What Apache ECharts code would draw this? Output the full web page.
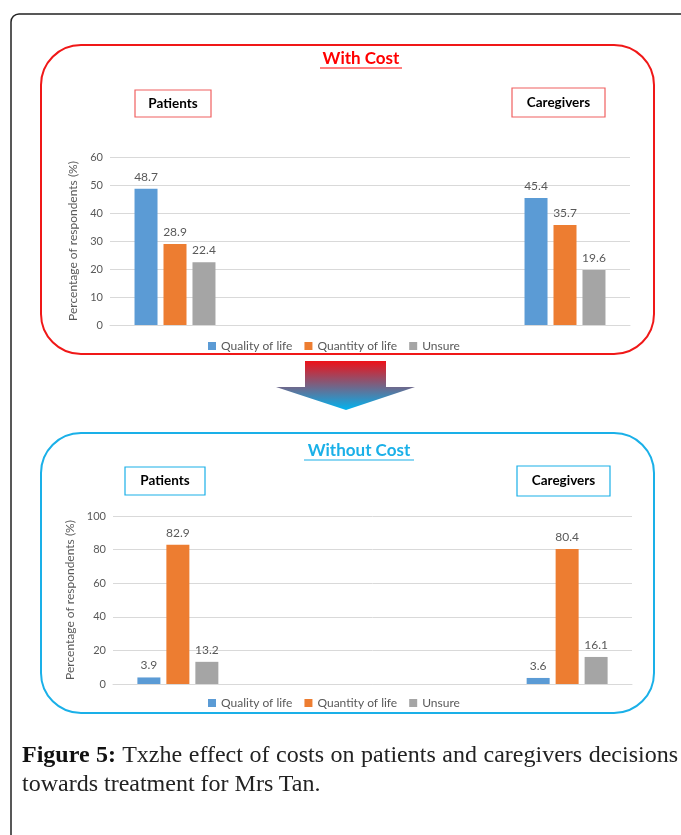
<!DOCTYPE html>
<html>
<head>
<meta charset="utf-8">
<script src="https://cdn.jsdelivr.net/npm/echarts@6/dist/echarts.min.js"></script>
<style>
    html, body { margin: 0; padding: 0; background: #fff; }
    #wrap { position: relative; width: 681px; height: 835px; }
    #main { width: 681px; height: 835px; }
    #caption {
        position: absolute; left: 22px; top: 740px; width: 656px;
        font: 24px "Liberation Serif", serif; line-height: 29px;
        color: #222; text-align: justify;
    }
    #caption b { color: #111; }
</style>
</head>
<body>
<div id="wrap">
    <div id="main"></div>
    <div id="caption"><b>Figure 5:</b> Txzhe effect of costs on patients and caregivers decisions towards treatment for Mrs Tan.</div>
</div>
<script>
// groups on the x axis (the chart leaves two empty slots between them)
const groups = ['Patients', 'Caregivers']
const seriesNames = ['Quality of life', 'Quantity of life', 'Unsure']

// With Cost (%)
const withQuality = [48.7, 45.4]
const withQuantity = [28.9, 35.7]
const withUnsure = [22.4, 19.6]

// Without Cost (%)
const withoutQuality = [3.9, 3.6]
const withoutQuantity = [82.9, 80.4]
const withoutUnsure = [13.2, 16.1]

const withTicks = { min: 0, max: 60, interval: 10 }
const withoutTicks = { min: 0, max: 100, interval: 20 }

const colors = ['#5B9BD5', '#ED7D31', '#A5A5A5']
const font = 'Lato, "Open Sans", sans-serif'

// spread two groups over four slots: first and last
function slots(arr) {
    return [arr[0], null, null, arr[1]]
}
const slotCats = [groups[0], '', '', groups[1]]

function bars(name, data, idx, axis) {
    return {
        name: name,
        type: 'bar',
        xAxisIndex: axis,
        yAxisIndex: axis,
        data: slots(data),
        barWidth: 23,
        barGap: '26%',
        itemStyle: { color: colors[idx] },
        label: {
            show: true,
            position: 'top',
            distance: 6,
            color: '#595959',
            fontFamily: font,
            fontSize: 12
        }
    }
}

function yAxis(ticks, grid) {
    return {
        type: 'value',
        gridIndex: grid,
        min: ticks.min,
        max: ticks.max,
        interval: ticks.interval,
        name: 'Percentage of respondents (%)',
        nameLocation: 'middle',
        nameGap: 26,
        nameTextStyle: { color: '#595959', fontFamily: font, fontSize: 12 },
        axisLine: { show: false },
        axisTick: { show: false },
        axisLabel: { color: '#595959', fontFamily: font, fontSize: 11, margin: 7 },
        splitLine: { lineStyle: { color: '#D9D9D9', width: 1 } }
    }
}

function xAxis(grid) {
    return {
        type: 'category',
        gridIndex: grid,
        data: slotCats,
        axisLine: { lineStyle: { color: '#D9D9D9' } },
        axisTick: { show: false },
        axisLabel: { show: false }
    }
}

function legend(top) {
    return {
        data: seriesNames,
        left: 203,
        top: top,
        itemWidth: 8,
        itemHeight: 8,
        itemGap: 12,
        icon: 'rect',
        textStyle: { color: '#595959', fontFamily: font, fontSize: 12 }
    }
}

function labelBox(text, x, y, w, h, color) {
    return [
        { type: 'rect', shape: { x: x, y: y, width: w, height: h }, style: { fill: '#fff', stroke: color, lineWidth: 1.2 } },
        { type: 'text', x: x + w / 2, y: y + h / 2, style: { text: text, fill: '#000', font: 'bold 13.5px ' + font, align: 'center', verticalAlign: 'middle' } }
    ]
}

function title(text, cx, cy, color, w) {
    return [
        { type: 'text', x: cx, y: cy, style: { text: text, fill: color, font: 'bold 17px ' + font, align: 'center', verticalAlign: 'middle' } },
        { type: 'line', shape: { x1: cx - w / 2, y1: cy + 9, x2: cx + w / 2, y2: cy + 9 }, style: { stroke: color, lineWidth: 1.2 } }
    ]
}

const red = '#F01818'
const sky = '#1AB0E8'

let graphics = [
    // outer figure frame
    { type: 'rect', shape: { x: 11, y: 14, width: 720, height: 860, r: 8 }, style: { fill: 'none', stroke: '#222', lineWidth: 1.5 } },
    // panel borders
    { type: 'rect', shape: { x: 41, y: 45, width: 613, height: 309, r: 40 }, style: { fill: 'none', stroke: red, lineWidth: 2 } },
    { type: 'rect', shape: { x: 41, y: 433, width: 613, height: 280, r: 40 }, style: { fill: 'none', stroke: sky, lineWidth: 2 } },
    // arrow
    {
        type: 'polygon',
        shape: { points: [[305, 361], [386, 361], [386, 387], [415, 387], [346, 410], [276, 387], [305, 387]] },
        style: {
            fill: new echarts.graphic.LinearGradient(0, 0, 0, 1, [
                { offset: 0, color: '#EE1118' },
                { offset: 1, color: '#00B4F0' }
            ])
        }
    }
]
graphics = graphics
    .concat(title('With Cost', 361, 59, '#FF0000', 82))
    .concat(title('Without Cost', 359, 451, sky, 110))
    .concat(labelBox('Patients', 135, 90, 76, 27, '#F06060'))
    .concat(labelBox('Caregivers', 512, 88, 93, 29, '#F06060'))
    .concat(labelBox('Patients', 125, 467, 80, 28, sky))
    .concat(labelBox('Caregivers', 517, 466, 93, 30, sky))

let myChart = echarts.init(document.getElementById('main'), null, { renderer: 'canvas' })

myChart.setOption({
    animation: false,
    grid: [
        { left: 110, right: 51, top: 157, height: 168 },
        { left: 113, right: 49, top: 516, height: 168 }
    ],
    xAxis: [xAxis(0), xAxis(1)],
    yAxis: [yAxis(withTicks, 0), yAxis(withoutTicks, 1)],
    legend: [legend(335), legend(692)],
    series: [
        bars(seriesNames[0], withQuality, 0, 0),
        bars(seriesNames[1], withQuantity, 1, 0),
        bars(seriesNames[2], withUnsure, 2, 0),
        bars(seriesNames[0], withoutQuality, 0, 1),
        bars(seriesNames[1], withoutQuantity, 1, 1),
        bars(seriesNames[2], withoutUnsure, 2, 1)
    ],
    graphic: graphics
})
</script>
</body>
</html>
